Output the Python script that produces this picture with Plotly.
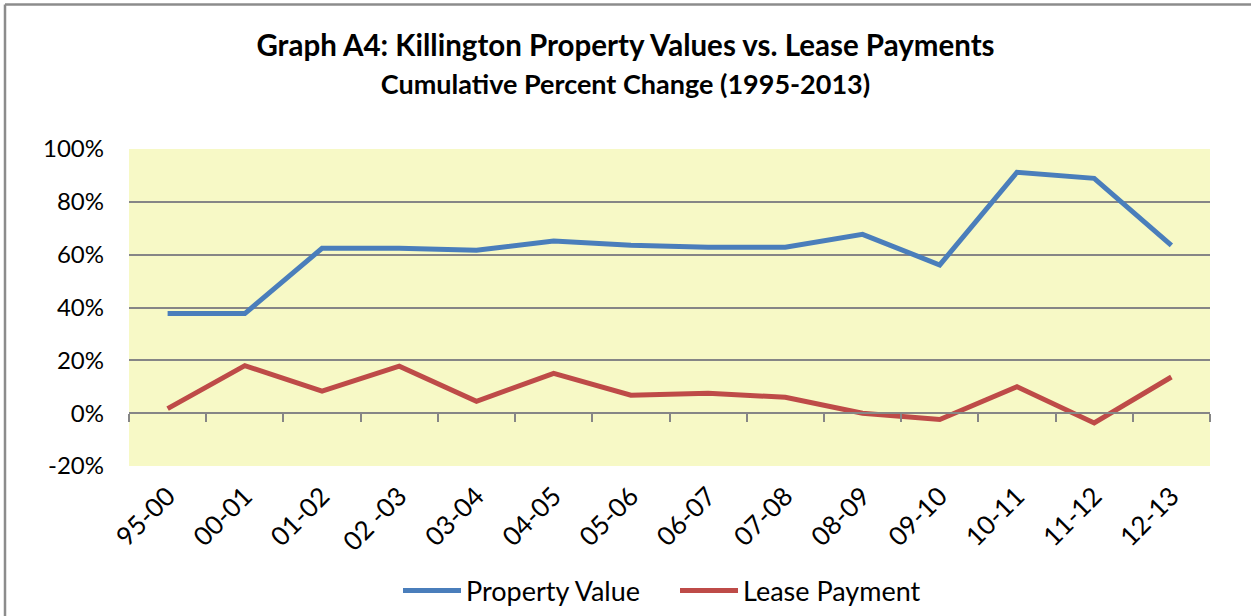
import plotly.graph_objects as go

categories = ["95-00", "00-01", "01-02", "02 -03", "03-04", "04-05", "05-06",
              "06-07", "07-08", "08-09", "09-10", "10-11", "11-12", "12-13"]
property_value = [0.377, 0.377, 0.624, 0.624, 0.617, 0.652, 0.636,
                  0.628, 0.628, 0.677, 0.561, 0.912, 0.889, 0.635]
lease_payment = [0.017, 0.180, 0.083, 0.178, 0.045, 0.151, 0.068,
                 0.075, 0.060, 0.000, -0.024, 0.100, -0.037, 0.137]
y_ticks = [-0.2, 0, 0.2, 0.4, 0.6, 0.8, 1.0]
y_tick_labels = ["-20%", "0%", "20%", "40%", "60%", "80%", "100%"]

FONT = "Lato"
W, H = 1251, 616
L, T = 129, 149
PW, PH = 1081, 317

fig = go.Figure()
fig.add_trace(go.Scatter(x=categories, y=property_value, mode="lines",
                         name="Property Value",
                         line=dict(color="#4A7EBB", width=5)))
fig.add_trace(go.Scatter(x=categories, y=lease_payment, mode="lines",
                         name="Lease Payment",
                         line=dict(color="#BE4B48", width=5)))
# helper trace carrying the category tick axis drawn at the 0% level
fig.add_trace(go.Scatter(x=categories, y=[None] * len(categories), xaxis="x2",
                         showlegend=False, hoverinfo="skip", mode="lines"))

zero_pos = (0 - y_ticks[0]) / (y_ticks[-1] - y_ticks[0])

fig.update_layout(
    width=W, height=H,
    margin=dict(l=L, r=W - L - PW, t=T, b=H - T - PH, autoexpand=False),
    paper_bgcolor="white",
    plot_bgcolor="#F7F9C6",
    title=dict(
        text="<b>Graph A4: Killington Property Values vs. Lease Payments</b><br>"
             "<span style='font-size:27px'><b>Cumulative Percent Change (1995-2013)</b></span>",
        x=0.5, xanchor="center", xref="container",
        y=0.922 - 8 / H, yanchor="top", yref="container",
        font=dict(family=FONT, size=29.5, color="black"),
    ),
    font=dict(family=FONT, size=24, color="black"),
    xaxis=dict(
        type="category", categoryorder="array", categoryarray=categories,
        range=[-0.5, len(categories) - 0.5],
        tickangle=-45, ticks="", showgrid=False, showline=False,
        ticklabelstandoff=9,
        tickfont=dict(family=FONT, size=26, color="black"),
        zeroline=False,
    ),
    xaxis2=dict(
        type="category", categoryorder="array", categoryarray=categories,
        range=[-0.5, len(categories) - 0.5],
        overlaying="x", anchor="free", position=zero_pos, side="bottom",
        showticklabels=False, ticks="outside", tickson="boundaries",
        ticklen=8, tickwidth=1.5, tickcolor="#868686",
        showline=True, linecolor="#868686", linewidth=1.5, showgrid=False,
    ),
    yaxis=dict(
        range=[y_ticks[0], y_ticks[-1]], tickvals=y_ticks, ticktext=y_tick_labels,
        showgrid=True, gridcolor="#868686", gridwidth=1.5,
        zeroline=False, showline=False, ticks="", ticklabelstandoff=24,
        tickfont=dict(family=FONT, size=24, color="black"),
    ),
    legend=dict(orientation="h", x=(398 - 129) / PW, xanchor="left", y=-0.394,
                yanchor="middle", font=dict(family=FONT, size=27, color="black"),
                itemwidth=58, entrywidth=204, entrywidthmode="pixels"),
)
# outer chart frame (left and top edges visible in the reference)
fig.add_shape(type="line", xref="paper", yref="paper", x0=-124 / PW, x1=-124 / PW,
              y0=-1.0, y1=1 + 144.5 / PH, line=dict(color="#8C8C8C", width=2.5))
fig.add_shape(type="line", xref="paper", yref="paper", x0=-124 / PW, x1=1.2,
              y0=1 + 144.5 / PH, y1=1 + 144.5 / PH, line=dict(color="#8C8C8C", width=2.5))

fig.write_html("out.html", config={"displayModeBar": False},
               post_script="document.body.style.margin='0';")
